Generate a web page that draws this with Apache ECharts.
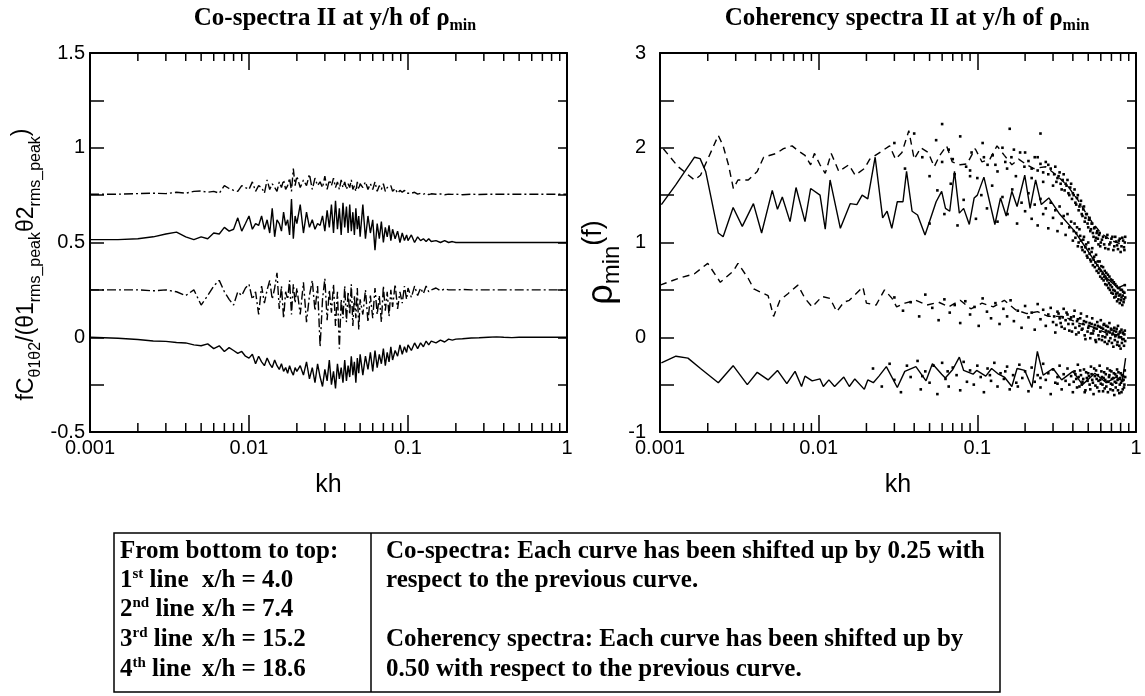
<!DOCTYPE html>
<html><head><meta charset="utf-8">
<script src="https://cdn.jsdelivr.net/npm/echarts@6/dist/echarts.min.js"></script>
<style>html,body{margin:0;padding:0;background:#fff}#c{width:1145px;height:696px}</style>
</head><body><div id="c"></div>
<script>
// ---------- Co-spectra (left panel) ----------
const khGrid = [
0.001,0.0015,0.002,0.0025,0.003,0.0035,0.004,0.0045,0.005,0.0055,0.006,0.0065,0.007,0.0075,0.008,0.0085,0.009,0.0095,
0.010,0.0105,0.011,0.0115,0.012,0.0125,0.013,0.0135,0.014,0.0145,0.015,0.0155,0.016,0.0165,0.017,0.0175,0.018,0.0185,0.019,0.0195,
0.020,0.021,0.022,0.023,0.024,0.025,0.026,0.027,0.028,0.029,0.030,0.031,0.032,0.033,0.034,0.035,0.036,0.037,0.038,0.039,
0.040,0.041,0.042,0.043,0.044,0.045,0.046,0.047,0.048,0.049,0.050,0.052,0.054,0.056,0.058,
0.060,0.062,0.064,0.066,0.068,0.070,0.072,0.074,0.076,0.078,0.080,0.083,0.086,0.089,0.092,0.095,0.098,
0.10,0.105,0.11,0.115,0.12,0.125,0.13,0.135,0.14,0.15,0.16,0.17,0.18,0.19,
0.20,0.22,0.25,0.28,0.32,0.36,0.40,0.45,0.50,0.60,0.70,0.80,0.90,1.0];

const coLine1 = [ // x/h = 4.0 (solid)
0,-0.005,-0.012,-0.02,-0.022,-0.028,-0.03,-0.04,-0.045,-0.035,-0.06,-0.045,-0.075,-0.055,-0.07,-0.085,-0.075,-0.1,
-0.11,-0.09,-0.14,-0.1,-0.13,-0.15,-0.11,-0.14,-0.16,-0.12,-0.15,-0.17,-0.14,-0.18,-0.16,-0.19,-0.15,-0.18,-0.2,-0.16,
-0.18,-0.15,-0.2,-0.13,-0.22,-0.16,-0.24,-0.14,-0.21,-0.26,-0.17,-0.23,-0.12,-0.25,-0.18,-0.27,-0.14,-0.22,-0.16,-0.24,
-0.12,-0.23,-0.15,-0.21,-0.1,-0.2,-0.13,-0.24,-0.11,-0.19,-0.09,-0.2,-0.1,-0.17,-0.08,
-0.18,-0.07,-0.16,-0.09,-0.14,-0.06,-0.15,-0.08,-0.13,-0.05,-0.12,-0.07,-0.1,-0.04,-0.09,-0.05,-0.08,
-0.04,-0.07,-0.03,-0.06,-0.03,-0.05,-0.02,-0.04,-0.02,-0.03,-0.015,-0.025,-0.01,-0.015,
-0.01,-0.008,-0.004,-0.003,0,0.002,0,-0.002,0,0,0,0,0,0];

const coLine2 = [ // x/h = 7.4 (dash-dot)
0.25,0.25,0.25,0.245,0.25,0.24,0.22,0.25,0.17,0.22,0.27,0.3,0.24,0.2,0.17,0.24,0.22,0.26,
0.28,0.2,0.24,0.12,0.27,0.18,0.25,0.3,0.2,0.26,0.34,0.15,0.27,0.1,0.24,0.2,0.3,0.12,0.28,0.18,
0.26,0.12,0.29,0.08,0.22,0.3,0.14,0.27,-0.05,0.2,0.31,0.09,0.25,0.13,0.28,0.06,0.24,-0.06,0.2,0.1,
0.27,0.08,0.24,0.12,0.28,0.06,0.22,0.1,0.26,0.04,0.2,0.12,0.25,0.08,0.22,
0.1,0.26,0.12,0.22,0.08,0.27,0.14,0.24,0.11,0.25,0.16,0.28,0.15,0.24,0.18,0.27,0.2,
0.26,0.21,0.27,0.22,0.26,0.23,0.27,0.24,0.25,0.26,0.245,0.255,0.25,0.25,
0.25,0.252,0.25,0.25,0.25,0.25,0.25,0.25,0.25,0.25,0.25,0.25,0.25,0.25];

const coLine3 = [ // x/h = 15.2 (solid)
0.515,0.515,0.52,0.53,0.545,0.555,0.53,0.515,0.53,0.52,0.55,0.545,0.58,0.56,0.57,0.63,0.56,0.6,
0.64,0.57,0.6,0.59,0.64,0.57,0.62,0.55,0.68,0.53,0.62,0.6,0.56,0.66,0.59,0.62,0.54,0.73,0.52,0.64,
0.6,0.7,0.55,0.66,0.58,0.62,0.57,0.6,0.59,0.64,0.56,0.67,0.58,0.7,0.55,0.72,0.57,0.68,0.54,0.71,
0.58,0.69,0.55,0.7,0.56,0.66,0.54,0.68,0.57,0.64,0.53,0.7,0.52,0.64,0.55,
0.62,0.46,0.6,0.52,0.61,0.5,0.58,0.53,0.59,0.51,0.57,0.52,0.56,0.5,0.55,0.51,0.54,
0.51,0.54,0.5,0.53,0.51,0.52,0.505,0.52,0.505,0.51,0.5,0.51,0.5,0.505,
0.5,0.5,0.5,0.5,0.5,0.5,0.5,0.5,0.5,0.5,0.5,0.5,0.5,0.5];

const coLine4 = [ // x/h = 18.6 (dash-dot)
0.755,0.755,0.758,0.76,0.758,0.765,0.76,0.77,0.772,0.765,0.77,0.76,0.8,0.785,0.775,0.77,0.8,0.79,
0.78,0.82,0.77,0.8,0.79,0.76,0.83,0.78,0.81,0.79,0.77,0.82,0.79,0.83,0.78,0.8,0.84,0.77,0.89,0.8,
0.85,0.79,0.83,0.8,0.86,0.78,0.84,0.8,0.82,0.79,0.85,0.78,0.83,0.8,0.84,0.79,0.82,0.78,0.83,0.79,
0.82,0.78,0.81,0.79,0.83,0.78,0.8,0.77,0.82,0.78,0.81,0.79,0.82,0.78,0.81,
0.78,0.82,0.77,0.8,0.78,0.81,0.77,0.79,0.78,0.8,0.77,0.785,0.76,0.775,0.765,0.775,0.76,
0.77,0.76,0.765,0.755,0.76,0.755,0.76,0.753,0.757,0.755,0.756,0.752,0.755,0.754,
0.755,0.752,0.755,0.753,0.755,0.755,0.755,0.755,0.755,0.755,0.755,0.755,0.755,0.755];

// ---------- Coherency spectra (right panel) ----------
const cohLine1 = [[0.00102,-0.27],[0.00126,-0.2],[0.0015,-0.22],[0.0018,-0.33],[0.00233,-0.48],[0.00289,-0.3],[0.00355,-0.5],[0.0041,-0.37],[0.0048,-0.45],[0.0055,-0.35],[0.0063,-0.49],[0.0071,-0.36],[0.0078,-0.52],[0.0082,-0.41],[0.0091,-0.46],[0.0102,-0.44],[0.0107,-0.52],[0.0116,-0.45],[0.0126,-0.52],[0.0144,-0.42],[0.0156,-0.52],[0.0169,-0.44],[0.0194,-0.55],[0.0204,-0.45],[0.0221,-0.48],[0.024,-0.41],[0.0267,-0.31],[0.0313,-0.53],[0.0349,-0.36],[0.041,-0.31],[0.0475,-0.46],[0.0521,-0.28],[0.0596,-0.39],[0.0628,-0.43],[0.07,-0.34],[0.077,-0.21],[0.082,-0.35],[0.094,-0.39],[0.099,-0.35],[0.113,-0.41],[0.123,-0.33],[0.136,-0.39],[0.148,-0.42],[0.165,-0.52],[0.178,-0.33],[0.199,-0.35],[0.221,-0.53],[0.239,-0.15],[0.26,-0.4],[0.3,-0.33],[0.34,-0.45],[0.4,-0.36],[0.46,-0.5],[0.55,-0.38],[0.65,-0.48],[0.75,-0.42],[0.82,-0.46],[0.86,-0.22]];

const cohLine2 = [[0.001,0.55],[0.0013,0.62],[0.00165,0.67],[0.002,0.78],[0.0024,0.58],[0.0029,0.7],[0.0031,0.78],[0.0036,0.62],[0.0039,0.51],[0.0048,0.44],[0.0052,0.22],[0.0057,0.39],[0.0064,0.46],[0.0074,0.55],[0.0082,0.41],[0.0091,0.32],[0.0105,0.43],[0.0118,0.41],[0.013,0.27],[0.0144,0.37],[0.0156,0.39],[0.019,0.53],[0.02,0.36],[0.023,0.34],[0.026,0.5],[0.029,0.41],[0.031,0.32],[0.035,0.36],[0.041,0.39],[0.048,0.34],[0.057,0.37],[0.066,0.32],[0.078,0.39],[0.091,0.3],[0.107,0.36],[0.126,0.32],[0.148,0.39],[0.174,0.29],[0.205,0.25],[0.24,0.27],[0.28,0.22],[0.35,0.22],[0.43,0.15],[0.53,0.11],[0.66,0.04],[0.82,0.02]];

const cohLine3 = [[0.00102,1.4],[0.00126,1.61],[0.00165,1.9],[0.00179,1.885],[0.00194,1.75],[0.0021,1.47],[0.00233,1.1],[0.0025,1.06],[0.00289,1.37],[0.0033,1.17],[0.00388,1.41],[0.00437,1.1],[0.0051,1.55],[0.0055,1.35],[0.0059,1.48],[0.0066,1.22],[0.0072,1.58],[0.0082,1.22],[0.0089,1.57],[0.0102,1.5],[0.011,1.14],[0.0118,1.66],[0.0137,1.15],[0.0158,1.41],[0.0174,1.4],[0.0188,1.5],[0.0204,1.46],[0.0227,1.9],[0.0253,1.26],[0.027,1.33],[0.0289,1.15],[0.0313,1.43],[0.034,1.43],[0.0358,1.75],[0.0388,1.33],[0.042,1.29],[0.0468,1.08],[0.055,1.43],[0.0596,1.54],[0.063,1.36],[0.067,1.33],[0.0718,1.75],[0.077,1.31],[0.082,1.36],[0.089,1.19],[0.0955,1.47],[0.1,1.5],[0.11,1.69],[0.129,1.19],[0.14,1.47],[0.152,1.28],[0.165,1.54],[0.178,1.38],[0.199,1.71],[0.215,1.36],[0.233,1.66],[0.253,1.4],[0.282,1.47],[0.33,1.3],[0.41,1.12],[0.48,0.95],[0.56,0.78],[0.66,0.62],[0.77,0.52],[0.84,0.55]];

const cohLine4 = [[0.00105,1.99],[0.0013,1.8],[0.00165,1.66],[0.0018,1.71],[0.002,1.88],[0.00233,2.13],[0.0025,2.02],[0.0027,1.82],[0.0029,1.57],[0.0031,1.66],[0.0036,1.66],[0.0041,1.75],[0.0045,1.9],[0.0054,1.94],[0.006,1.99],[0.0068,2.02],[0.0074,1.97],[0.0082,1.92],[0.0089,1.82],[0.0094,1.94],[0.0102,1.82],[0.011,1.73],[0.012,1.94],[0.0134,1.75],[0.0155,1.82],[0.017,1.71],[0.0194,1.78],[0.021,1.88],[0.0253,1.97],[0.028,2.02],[0.0305,1.88],[0.0335,1.95],[0.037,2.18],[0.04,1.88],[0.044,2.0],[0.049,1.95],[0.0535,1.8],[0.058,1.92],[0.064,2.02],[0.0695,1.85],[0.078,1.82],[0.086,1.83],[0.097,1.99],[0.107,1.85],[0.12,1.88],[0.133,2.02],[0.148,1.92],[0.165,1.82],[0.182,1.88],[0.205,1.82],[0.227,1.78],[0.27,1.8],[0.31,1.72],[0.37,1.6],[0.43,1.45],[0.51,1.25],[0.6,1.1],[0.7,1.02],[0.82,0.98]];

const cohCloud1 = [[0.022,-0.33],[0.025,-0.52],[0.028,-0.28],[0.03,-0.45],[0.033,-0.58],[0.036,-0.3],[0.038,-0.42],[0.042,-0.25],[0.044,-0.55],[0.047,-0.36],[0.05,-0.48],[0.053,-0.3],[0.056,-0.6],[0.06,-0.27],[0.063,-0.44],[0.066,-0.52],[0.07,-0.32],[0.074,-0.4],[0.078,-0.56],[0.082,-0.26],[0.086,-0.47],[0.09,-0.35],[0.095,-0.5],[0.1,-0.3],[0.105,-0.42],[0.11,-0.58],[0.116,-0.33],[0.122,-0.46],[0.128,-0.27],[0.134,-0.52],[0.14,-0.38],[0.147,-0.44],[0.154,-0.31],[0.16,-0.55],[0.168,-0.4],[0.176,-0.48],[0.184,-0.29],[0.192,-0.43],[0.2,-0.36],[0.21,-0.57],[0.22,-0.32],[0.23,-0.47],[0.24,-0.4],[0.25,-0.53],[0.26,-0.28],[0.27,-0.45],[0.28,-0.38],[0.29,-0.6],[0.3,-0.34],[0.31,-0.48],[0.32,-0.42],[0.33,-0.3],[0.34,-0.55],[0.35,-0.39],[0.36,-0.46],[0.37,-0.33],[0.38,-0.5],[0.39,-0.41],[0.4,-0.58],[0.41,-0.36],[0.42,-0.44],[0.43,-0.29],[0.44,-0.52],[0.45,-0.4],[0.46,-0.47],[0.47,-0.34],[0.48,-0.56],[0.49,-0.43],[0.5,-0.38],[0.51,-0.5],[0.52,-0.31],[0.53,-0.45],[0.54,-0.6],[0.55,-0.41],[0.56,-0.35],[0.57,-0.53],[0.58,-0.46],[0.59,-0.3],[0.6,-0.49],[0.61,-0.42],[0.62,-0.57],[0.63,-0.37],[0.64,-0.45],[0.65,-0.52],[0.66,-0.33],[0.67,-0.47],[0.68,-0.4],[0.69,-0.55],[0.7,-0.36],[0.71,-0.5],[0.72,-0.43],[0.73,-0.61],[0.74,-0.39],[0.75,-0.48],[0.76,-0.34],[0.77,-0.56],[0.78,-0.44],[0.79,-0.5],[0.8,-0.38],[0.81,-0.58],[0.82,-0.46],[0.83,-0.41],[0.84,-0.53],[0.85,-0.35]];
const cohCloud1Dense = [[0.405,-0.47],[0.415,-0.39],[0.425,-0.53],[0.435,-0.42],[0.445,-0.35],[0.455,-0.5],[0.465,-0.44],[0.475,-0.58],[0.485,-0.37],[0.495,-0.46],[0.505,-0.41],[0.515,-0.55],[0.525,-0.39],[0.535,-0.48],[0.545,-0.33],[0.555,-0.51],[0.565,-0.44],[0.575,-0.4],[0.585,-0.57],[0.595,-0.45],[0.605,-0.36],[0.615,-0.5],[0.625,-0.43],[0.635,-0.54],[0.645,-0.39],[0.655,-0.47],[0.665,-0.58],[0.675,-0.42],[0.685,-0.35],[0.695,-0.49],[0.705,-0.44],[0.715,-0.56],[0.725,-0.38],[0.735,-0.47],[0.745,-0.53],[0.755,-0.41],[0.765,-0.45],[0.775,-0.37],[0.785,-0.59],[0.795,-0.43],[0.805,-0.48],[0.815,-0.4],[0.825,-0.55],[0.835,-0.45],[0.845,-0.5],[0.855,-0.42],[0.15,-0.36],[0.18,-0.52],[0.25,-0.43],[0.32,-0.49],[0.12,-0.4],[0.045,-0.41],[0.065,-0.36]];

const cohCloud2 = [[0.03,0.42],[0.034,0.28],[0.038,0.37],[0.043,0.22],[0.047,0.45],[0.052,0.31],[0.057,0.18],[0.062,0.4],[0.067,0.26],[0.072,0.34],[0.078,0.15],[0.084,0.38],[0.09,0.24],[0.096,0.32],[0.102,0.12],[0.108,0.41],[0.115,0.27],[0.122,0.2],[0.13,0.36],[0.138,0.14],[0.146,0.3],[0.154,0.22],[0.162,0.39],[0.17,0.17],[0.18,0.28],[0.19,0.1],[0.2,0.33],[0.21,0.21],[0.22,0.26],[0.23,0.08],[0.24,0.35],[0.25,0.19],[0.26,0.29],[0.27,0.12],[0.28,0.24],[0.29,0.31],[0.3,0.16],[0.31,0.05],[0.32,0.27],[0.33,0.2],[0.34,0.11],[0.35,0.3],[0.36,0.18],[0.37,0.24],[0.38,0.07],[0.39,0.21],[0.4,0.14],[0.41,0.28],[0.42,0.03],[0.43,0.19],[0.44,0.12],[0.45,0.25],[0.46,0.09],[0.47,0.17],[0.48,-0.02],[0.49,0.22],[0.5,0.1],[0.51,0.15],[0.52,0.04],[0.53,0.2],[0.54,0.07],[0.55,0.13],[0.56,-0.05],[0.57,0.16],[0.58,0.02],[0.59,0.11],[0.6,0.18],[0.61,-0.03],[0.62,0.09],[0.63,0.14],[0.64,0.0],[0.65,0.12],[0.66,-0.07],[0.67,0.06],[0.68,0.15],[0.69,-0.01],[0.7,0.08],[0.71,0.03],[0.72,-0.1],[0.73,0.1],[0.74,0.01],[0.75,0.06],[0.76,-0.08],[0.77,0.12],[0.78,0.0],[0.79,0.05],[0.8,-0.12],[0.81,0.08],[0.82,-0.02],[0.83,0.04],[0.84,-0.09],[0.85,0.07]];
const cohCloud2Dense = [[0.305,0.22],[0.315,0.13],[0.325,0.25],[0.335,0.15],[0.345,0.21],[0.355,0.09],[0.365,0.26],[0.375,0.14],[0.385,0.19],[0.395,0.06],[0.405,0.22],[0.415,0.1],[0.425,0.17],[0.435,0.05],[0.445,0.2],[0.455,0.08],[0.465,0.14],[0.475,0.02],[0.485,0.16],[0.495,0.06],[0.505,0.12],[0.515,-0.01],[0.525,0.14],[0.535,0.04],[0.545,0.1],[0.555,-0.03],[0.565,0.09],[0.575,0.12],[0.585,-0.02],[0.595,0.06],[0.605,0.1],[0.615,0.01],[0.625,0.13],[0.635,-0.05],[0.645,0.07],[0.655,0.03],[0.665,0.11],[0.675,-0.04],[0.685,0.05],[0.695,0.09],[0.705,-0.06],[0.715,0.04],[0.725,0.07],[0.735,-0.03],[0.745,0.02],[0.755,0.09],[0.765,-0.05],[0.775,0.03],[0.785,-0.09],[0.795,0.06],[0.805,0.0],[0.815,-0.06],[0.825,0.05],[0.835,-0.02],[0.845,0.03],[0.855,-0.04]];

const cohCloud3 = [[0.05,1.2],[0.056,1.55],[0.062,1.3],[0.068,1.62],[0.075,1.18],[0.082,1.45],[0.09,1.7],[0.098,1.25],[0.106,1.5],[0.115,1.36],[0.124,1.6],[0.134,1.22],[0.144,1.48],[0.155,1.3],[0.166,1.56],[0.178,1.2],[0.19,1.42],[0.2,1.33],[0.21,1.52],[0.22,1.25],[0.23,1.4],[0.24,1.18],[0.25,1.46],[0.26,1.3],[0.27,1.36],[0.28,1.15],[0.29,1.42],[0.3,1.26],[0.31,1.34],[0.32,1.12],[0.33,1.38],[0.34,1.2],[0.35,1.28],[0.36,1.08],[0.37,1.3],[0.38,1.16],[0.39,1.22],[0.4,1.02],[0.41,1.2],[0.42,1.1],[0.43,0.96],[0.44,1.14],[0.45,1.02],[0.46,0.92],[0.47,1.06],[0.48,0.95],[0.49,0.86],[0.5,1.0],[0.51,0.88],[0.52,0.8],[0.53,0.94],[0.54,0.82],[0.55,0.74],[0.56,0.87],[0.57,0.76],[0.58,0.68],[0.59,0.8],[0.6,0.7],[0.61,0.62],[0.62,0.74],[0.63,0.64],[0.64,0.56],[0.65,0.68],[0.66,0.6],[0.67,0.52],[0.68,0.64],[0.69,0.55],[0.7,0.47],[0.71,0.6],[0.72,0.5],[0.73,0.42],[0.74,0.56],[0.75,0.46],[0.76,0.38],[0.77,0.52],[0.78,0.44],[0.79,0.36],[0.8,0.5],[0.81,0.42],[0.82,0.34],[0.83,0.48],[0.84,0.4],[0.85,0.55]];
const cohCloud3Dense = [[0.405,1.12],[0.415,1.05],[0.425,1.16],[0.435,1.0],[0.445,1.07],[0.455,0.95],[0.465,1.03],[0.475,0.9],[0.485,0.98],[0.495,0.84],[0.505,0.93],[0.515,0.82],[0.525,0.9],[0.535,0.76],[0.545,0.85],[0.555,0.79],[0.565,0.7],[0.575,0.8],[0.585,0.72],[0.595,0.64],[0.605,0.75],[0.615,0.67],[0.625,0.6],[0.635,0.7],[0.645,0.62],[0.655,0.55],[0.665,0.66],[0.675,0.57],[0.685,0.5],[0.695,0.61],[0.705,0.53],[0.715,0.46],[0.725,0.58],[0.735,0.49],[0.745,0.43],[0.755,0.54],[0.765,0.47],[0.775,0.4],[0.785,0.52],[0.795,0.45],[0.805,0.39],[0.815,0.5],[0.825,0.44],[0.835,0.37],[0.845,0.47],[0.855,0.42]];

const cohCloud4 = [[0.03,2.05],[0.035,1.78],[0.04,2.15],[0.045,1.9],[0.05,1.7],[0.055,2.08],[0.06,1.85],[0.066,1.98],[0.072,1.72],[0.078,2.12],[0.085,1.8],[0.092,1.95],[0.1,1.68],[0.108,2.05],[0.116,1.82],[0.125,1.92],[0.134,1.75],[0.144,2.0],[0.154,1.78],[0.164,1.9],[0.175,1.7],[0.186,1.95],[0.198,1.8],[0.21,1.86],[0.22,1.68],[0.23,1.9],[0.24,1.76],[0.25,1.83],[0.26,1.64],[0.27,1.85],[0.28,1.72],[0.29,1.78],[0.3,1.6],[0.31,1.8],[0.32,1.68],[0.33,1.74],[0.34,1.56],[0.35,1.72],[0.36,1.62],[0.37,1.66],[0.38,1.5],[0.39,1.62],[0.4,1.52],[0.41,1.56],[0.42,1.4],[0.43,1.5],[0.44,1.38],[0.45,1.44],[0.46,1.28],[0.47,1.38],[0.48,1.26],[0.49,1.3],[0.5,1.16],[0.51,1.26],[0.52,1.14],[0.53,1.2],[0.54,1.06],[0.55,1.16],[0.56,1.05],[0.57,1.12],[0.58,0.98],[0.59,1.1],[0.6,1.0],[0.62,1.06],[0.64,0.94],[0.66,1.08],[0.68,0.98],[0.7,1.04],[0.72,0.92],[0.74,1.06],[0.76,0.97],[0.78,1.02],[0.8,0.9],[0.82,1.05],[0.84,0.95],[0.85,1.0]];
const cohCloud4Dense = [[0.305,1.72],[0.315,1.64],[0.325,1.7],[0.335,1.62],[0.345,1.66],[0.355,1.55],[0.365,1.6],[0.375,1.52],[0.385,1.58],[0.395,1.46],[0.405,1.5],[0.415,1.42],[0.425,1.47],[0.435,1.34],[0.445,1.4],[0.455,1.3],[0.465,1.35],[0.475,1.22],[0.485,1.3],[0.495,1.2],[0.505,1.24],[0.515,1.12],[0.525,1.2],[0.535,1.1],[0.545,1.15],[0.555,1.02],[0.565,1.1],[0.575,1.04],[0.585,1.08],[0.595,0.96],[0.61,1.03],[0.63,0.98],[0.65,1.05],[0.67,0.93],[0.69,1.0],[0.71,1.06],[0.73,0.96],[0.75,1.01],[0.77,0.93],[0.79,1.04],[0.81,0.96],[0.83,1.02],[0.845,0.92],[0.855,1.06],[0.2,1.95],[0.22,1.78],[0.24,1.9],[0.26,1.74],[0.28,1.82],[0.15,1.85],[0.17,1.98],[0.13,1.82],[0.11,1.9],[0.09,1.76],[0.07,1.88],[0.16,2.2],[0.25,2.15],[0.06,2.25]];

// ---------- ticks and labels ----------
const xTickLabels = ['0.001','0.01','0.1','1'];
const minorTickValues = [0.002,0.003,0.004,0.005,0.006,0.007,0.008,0.009,0.02,0.03,0.04,0.05,0.06,0.07,0.08,0.09,0.2,0.3,0.4,0.5,0.6,0.7,0.8,0.9];
const leftYLabels = ['-0.5','0','0.5','1','1.5'];
const rightYLabels = ['-1','0','1','2','3'];

// ---------- table text ----------
const tableHeader = 'From bottom to top:';
const lineOrdinals = [['1','st'],['2','nd'],['3','rd'],['4','th']];
const lineXh = ['4.0','7.4','15.2','18.6'];
const tableRightRows = ['Co-spectra: Each curve has been shifted up by 0.25 with','respect to the previous curve.','','Coherency spectra: Each curve has been shifted up by','0.50 with respect to the previous curve.'];

// ---------- chart ----------
const chart = echarts.init(document.getElementById('c'), null, {renderer:'canvas'});
const SANS = 'Liberation Sans, Arial, sans-serif';
const SERIF = 'Liberation Serif, Times New Roman, serif';
const BLACK = '#000';

function xAxes(gi) {
  const fmt = v => xTickLabels[Math.round(Math.log10(v)) + 3] || '';
  const base = {type:'log', logBase:10, min:0.001, max:1, gridIndex:gi,
    axisLine:{show:true, onZero:false, lineStyle:{color:BLACK, width:2}},
    axisTick:{show:true, inside:true, length:17, lineStyle:{color:BLACK, width:1.5}},
    splitLine:{show:false}, minorTick:{show:false}};
  return [
    Object.assign({}, base, {position:'bottom',
      axisLabel:{show:true, formatter:fmt, color:BLACK, fontFamily:SANS, fontSize:20, margin:6},
      name:'kh', nameLocation:'middle', nameGap:41, nameTextStyle:{fontFamily:SANS, fontSize:25, color:BLACK}}),
    Object.assign({}, base, {position:'top', axisLabel:{show:false}})
  ];
}
function yAxes(gi, min, max, interval, labels, nameCfg, labelMargin) {
  const fmt = v => { const s = String(+(+v).toFixed(2)); return labels.indexOf(s) >= 0 ? s : ''; };
  const base = {type:'value', min:min, max:max, interval:interval, gridIndex:gi,
    axisLine:{show:true, onZero:false, lineStyle:{color:BLACK, width:2}},
    splitLine:{show:false}};
  return [
    Object.assign({}, base, {position:'left',
      axisTick:{show:true, inside:true, length:14, lineStyle:{color:BLACK, width:1.5}},
      axisLabel:{show:true, formatter:fmt, color:BLACK, fontFamily:SANS, fontSize:20, margin:labelMargin}}, nameCfg),
    Object.assign({}, base, {position:'right',
      axisTick:{show:true, inside:true, length:9, lineStyle:{color:BLACK, width:1.5}},
      axisLabel:{show:false}})
  ];
}
function minorTicks(xi, yi, ymin, ymax) {
  return {type:'custom', xAxisIndex:xi, yAxisIndex:yi, silent:true, z:5,
    data: minorTickValues.map(v => [v, ymin]),
    encode:{x:0, y:1},
    renderItem: (params, api) => {
      const pb = api.coord([api.value(0), ymin]);
      const pt = api.coord([api.value(0), ymax]);
      return {type:'group', children:[
        {type:'line', shape:{x1:pb[0], y1:pb[1], x2:pb[0], y2:pb[1]-9}, style:{stroke:BLACK, lineWidth:1.5}},
        {type:'line', shape:{x1:pt[0], y1:pt[1], x2:pt[0], y2:pt[1]+8}, style:{stroke:BLACK, lineWidth:1.5}}
      ]};
    }};
}
function coSeries(ys, dash) {
  return {type:'line', xAxisIndex:0, yAxisIndex:0, showSymbol:false, symbol:'none', silent:true,
    data: khGrid.map((x, i) => [x, ys[i]]),
    lineStyle:{color:BLACK, width:1.4, type: dash ? [9,3,2,3] : 'solid'}};
}
function cohLine(pts, dash) {
  return {type:'line', xAxisIndex:2, yAxisIndex:2, showSymbol:false, symbol:'none', silent:true,
    data: pts, lineStyle:{color:BLACK, width:1.4, type: dash ? [7,5] : 'solid'}};
}
function cohCloud(pts) {
  return {type:'scatter', xAxisIndex:2, yAxisIndex:2, silent:true, symbol:'rect', symbolSize:2.6,
    data: pts, itemStyle:{color:BLACK, opacity:1}};
}

const leftName = {
  name:'{m|fC}{s|θ1θ2}{m|/(θ1}{s|rms_peak}{m|θ2}{s|rms_peak}{u|)}',
  nameLocation:'middle', nameGap:46,
  nameTextStyle:{color:BLACK, fontFamily:SANS, padding:[0,44,0,0], rich:{
    m:{fontSize:23, fontFamily:SANS, color:BLACK, lineHeight:34, verticalAlign:'middle'},
    s:{fontSize:16, fontFamily:SANS, color:BLACK, lineHeight:16, verticalAlign:'bottom'},
    u:{fontSize:23, fontFamily:SANS, color:BLACK, lineHeight:23, verticalAlign:'top'}}}
};
const rightName = {
  name:'{m|ρ}{s|min}{u|(f)}',
  nameLocation:'middle', nameGap:32,
  nameTextStyle:{color:BLACK, fontFamily:SANS, padding:[0,40,0,0], rich:{
    m:{fontSize:36, fontFamily:SANS, color:BLACK, lineHeight:44, verticalAlign:'middle'},
    s:{fontSize:24, fontFamily:SANS, color:BLACK, lineHeight:24, verticalAlign:'bottom'},
    u:{fontSize:27, fontFamily:SANS, color:BLACK, lineHeight:27, verticalAlign:'top'}}}
};

const titleRich = {
  t:{fontSize:25, fontWeight:'bold', fontFamily:SERIF, color:BLACK, lineHeight:30, verticalAlign:'middle'},
  s:{fontSize:16, fontWeight:'bold', fontFamily:SERIF, color:BLACK, lineHeight:16, verticalAlign:'bottom'}
};

// table graphics
const TBL = {x1:114, x2:1000, y1:533, y2:692, div:371};
const rowY = [552, 581, 610, 640, 670];
const tblFont = {fontFamily:SERIF, fontWeight:'bold', fontSize:25, fill:BLACK};
const tblRich = {
  n:{fontFamily:SERIF, fontWeight:'bold', fontSize:25, fill:BLACK, color:BLACK, lineHeight:28, verticalAlign:'middle'},
  p:{fontFamily:SERIF, fontWeight:'bold', fontSize:15, fill:BLACK, color:BLACK, lineHeight:14, verticalAlign:'top'}
};
const graphics = [
  {type:'rect', shape:{x:TBL.x1, y:TBL.y1, width:TBL.x2-TBL.x1, height:TBL.y2-TBL.y1}, style:{fill:null, stroke:BLACK, lineWidth:1.5}},
  {type:'line', shape:{x1:TBL.div, y1:TBL.y1, x2:TBL.div, y2:TBL.y2}, style:{stroke:BLACK, lineWidth:1.5}},
  {type:'text', x:120, y:rowY[0], style:Object.assign({text:tableHeader, verticalAlign:'middle'}, tblFont)}
];
lineOrdinals.forEach((o, i) => {
  graphics.push({type:'text', x:120, y:rowY[i+1], style:{text:'{n|'+o[0]+'}{p|'+o[1]+'}{n| line}', rich:tblRich, verticalAlign:'middle', fill:BLACK}});
  graphics.push({type:'text', x:202, y:rowY[i+1], style:Object.assign({text:'x/h = '+lineXh[i], verticalAlign:'middle'}, tblFont)});
});
tableRightRows.forEach((t, i) => {
  if (t) graphics.push({type:'text', x:386, y:rowY[i], style:Object.assign({text:t, verticalAlign:'middle'}, tblFont)});
});

const option = {
  animation:false,
  backgroundColor:'#fff',
  title:[
    {text:'{t|Co-spectra II at y/h of ρ}{s|min}', left:330, top:-1, textAlign:'center', textStyle:{rich:titleRich}},
    {text:'{t|Coherency spectra II at y/h of ρ}{s|min}', left:902, top:-1, textAlign:'center', textStyle:{rich:titleRich}}
  ],
  grid:[
    {left:90, top:53, width:477, height:379, containLabel:false},
    {left:660, top:53, width:476, height:379, containLabel:false}
  ],
  xAxis:[].concat(xAxes(0), xAxes(1)),
  yAxis:[].concat(yAxes(0, -0.5, 1.5, 0.25, leftYLabels, leftName, 5), yAxes(1, -1, 3, 0.5, rightYLabels, rightName, 14)),
  series:[
    minorTicks(0, 0, -0.5, 1.5),
    minorTicks(2, 2, -1, 3),
    coSeries(coLine1, false),
    coSeries(coLine2, true),
    coSeries(coLine3, false),
    coSeries(coLine4, true),
    cohCloud(cohCloud1), cohCloud(cohCloud1Dense),
    cohCloud(cohCloud2), cohCloud(cohCloud2Dense),
    cohCloud(cohCloud3), cohCloud(cohCloud3Dense),
    cohCloud(cohCloud4), cohCloud(cohCloud4Dense),
    cohLine(cohLine1, false), cohLine(cohLine2, true), cohLine(cohLine3, false), cohLine(cohLine4, true)
  ],
  graphic: graphics
};
chart.setOption(option);
</script>
</body></html>
